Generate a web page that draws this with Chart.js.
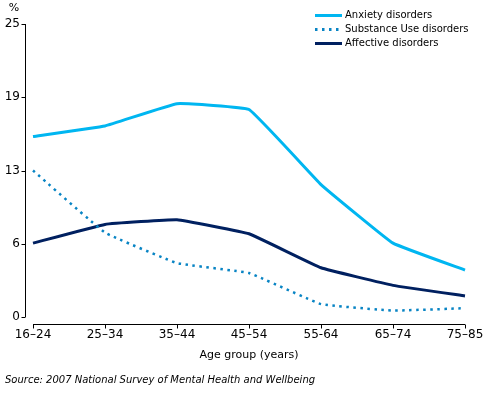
<!DOCTYPE html>
<html>
<head>
<meta charset="utf-8">
<script src="https://cdn.jsdelivr.net/npm/chart.js@4.4.0/dist/chart.umd.min.js"></script>
<style>
  html, body { margin: 0; padding: 0; background: #fff; }
  #wrap { width: 485px; height: 393px; }
</style>
</head>
<body>
<div id="wrap"><canvas id="chart" width="485" height="393"></canvas></div>
<script>
// data
const ageGroups = ['16–24', '25–34', '35–44', '45–54', '55-64', '65–74', '75–85']
const anxiety = [15.4, 16.3, 18.2, 17.7, 11.3, 6.3, 4.0]
const substanceUse = [12.5, 7.2, 4.6, 3.75, 1.1, 0.55, 0.75]
const affective = [6.3, 7.9, 8.3, 7.1, 4.2, 2.7, 1.8]
const yTicks = [0, 6.25, 12.5, 18.75, 25]

const FONT = '"DejaVu Sans", Verdana, sans-serif'

// axes lines, tick marks, legend and the loose texts
const extras = {
  id: 'extras',
  afterDraw(chart) {
    const ctx = chart.ctx
    const x = chart.scales.x
    const y = chart.scales.y
    const area = chart.chartArea
    ctx.save()
    ctx.strokeStyle = '#000'
    ctx.lineWidth = 1
    // y axis
    const ax = area.left - 7.5
    ctx.beginPath()
    ctx.moveTo(ax, y.getPixelForValue(25))
    ctx.lineTo(ax, y.getPixelForValue(0))
    yTicks.forEach(v => {
      const py = Math.round(y.getPixelForValue(v)) + 0.5
      ctx.moveTo(ax - 4, py)
      ctx.lineTo(ax, py)
    })
    // x axis
    const ay = area.bottom + 7.5
    ctx.moveTo(x.getPixelForValue(0), ay)
    ctx.lineTo(x.getPixelForValue(ageGroups.length - 1), ay)
    ageGroups.forEach((g, i) => {
      const px = Math.round(x.getPixelForValue(i)) + 0.5
      ctx.moveTo(px, ay)
      ctx.lineTo(px, ay + 4)
    })
    ctx.stroke()

    // texts
    ctx.fillStyle = '#000'
    ctx.font = '11px ' + FONT
    ctx.textAlign = 'center'
    ctx.textBaseline = 'middle'
    ctx.fillText('%', 14, 8)
    ctx.fillText('Age group (years)', (area.left + area.right) / 2, 355)
    ctx.textAlign = 'left'
    ctx.font = 'italic 10px ' + FONT
    ctx.fillText('Source: 2007 National Survey of Mental Health and Wellbeing', 5, 380)

    // legend
    ctx.font = '10px ' + FONT
    chart.data.datasets.forEach((ds, i) => {
      const ly = 15.5 + i * 14
      ctx.beginPath()
      ctx.strokeStyle = ds.borderColor
      ctx.lineWidth = 3
      ctx.setLineDash(ds.borderDash || [])
      ctx.moveTo(315, ly)
      ctx.lineTo(342, ly)
      ctx.stroke()
      ctx.setLineDash([])
      ctx.fillStyle = '#000'
      ctx.fillText(ds.label, 345, ly)
    })
    ctx.restore()
  }
}

new Chart(document.querySelector('#chart'), {
  type: 'line',
  data: {
    labels: ageGroups,
    datasets: [
      { label: 'Anxiety disorders', data: anxiety, borderColor: '#00b6f1', borderWidth: 3 },
      { label: 'Substance Use disorders', data: substanceUse, borderColor: '#0884c4', borderWidth: 2.5, borderDash: [2.5, 4.5] },
      { label: 'Affective disorders', data: affective, borderColor: '#002060', borderWidth: 3 }
    ]
  },
  options: {
    responsive: false,
    animation: false,
    devicePixelRatio: 1,
    layout: { padding: { top: 24, right: 20, bottom: 26, left: 0 } },
    elements: {
      point: { radius: 0 },
      line: { tension: 0.08, borderCapStyle: 'butt', borderJoinStyle: 'round' }
    },
    plugins: { legend: { display: false }, tooltip: { enabled: false } },
    scales: {
      x: {
        offset: false,
        grid: { display: false, drawTicks: false },
        border: { display: false },
        ticks: { color: '#000', font: { family: FONT, size: 12 }, padding: 11, maxRotation: 0, autoSkip: false },
        afterFit: s => { s.height = 50; s.paddingLeft = 0; s.paddingRight = 0 }
      },
      y: {
        min: 0,
        max: 25,
        afterBuildTicks: s => { s.ticks = yTicks.map(v => ({ value: v })) },
        grid: { display: false, drawTicks: false },
        border: { display: false },
        ticks: { color: '#000', font: { family: FONT, size: 12 }, padding: 13, callback: v => Math.round(v) },
        afterFit: s => { s.width = 33 }
      }
    }
  },
  plugins: [extras]
})
</script>
</body>
</html>
